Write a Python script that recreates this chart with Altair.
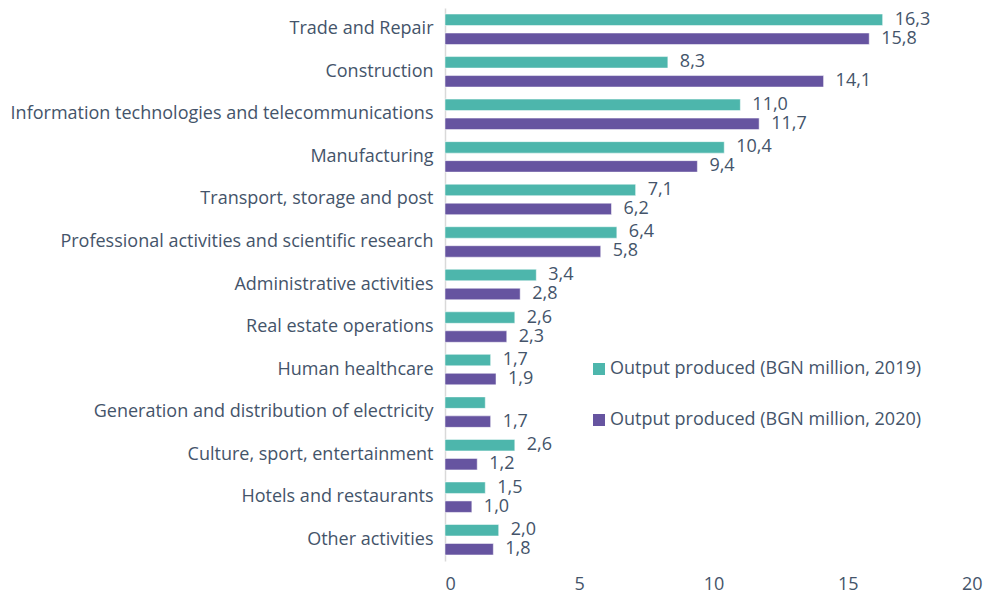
import altair as alt
import pandas as pd

categories = [
    "Trade and Repair",
    "Construction",
    "Information technologies and telecommunications",
    "Manufacturing",
    "Transport, storage and post",
    "Professional activities and scientific research",
    "Administrative activities",
    "Real estate operations",
    "Human healthcare\u00a0",
    "Generation and distribution of electricity",
    "Culture, sport, entertainment",
    "Hotels and restaurants",
    "Other activities",
]
values_2019 = [16.3, 8.3, 11.0, 10.4, 7.1, 6.4, 3.4, 2.6, 1.7, 1.5, 2.6, 1.5, 2.0]
values_2020 = [15.8, 14.1, 11.7, 9.4, 6.2, 5.8, 2.8, 2.3, 1.9, 1.7, 1.2, 1.0, 1.8]
series = ["Output produced (BGN million, 2019)", "Output produced (BGN million, 2020)"]
# the reference shows no label for the 2019 electricity bar
unlabelled = [("Generation and distribution of electricity", series[0])]

rows = []
for c, a, b in zip(categories, values_2019, values_2020):
    for s, v in zip(series, (a, b)):
        lab = "" if (c, s) in unlabelled else f"{v:.1f}".replace(".", ",")
        rows.append({"category": c, "series": s, "value": v, "label": lab})
df = pd.DataFrame(rows)

FONT = "Open Sans"
TXT = "#44546A"
FS = 18

y = alt.Y("category:N", sort=categories, title=None,
          scale=alt.Scale(paddingInner=0, paddingOuter=0),
          axis=alt.Axis(labelFontSize=FS, labelColor=TXT, labelFont=FONT,
                        labelLimit=500, labelPadding=12, ticks=False,
                        domainColor="#D9D9D9", domainWidth=1.5))
yoff = alt.YOffset("series:N", sort=series,
                   scale=alt.Scale(paddingInner=0.395, paddingOuter=0.318))
x = alt.X("value:Q", title=None,
          scale=alt.Scale(domain=[0, 20], nice=False),
          axis=alt.Axis(values=[0, 5, 10, 15, 20], grid=False, domain=False,
                        ticks=False, labelFontSize=FS, labelColor=TXT,
                        labelFont=FONT, labelPadding=14))

color = alt.Color("series:N", sort=series, title=None,
                  scale=alt.Scale(domain=series, range=["#4DB6AC", "#6654A0"]),
                  legend=alt.Legend(orient="none", legendX=145, legendY=352,
                                    symbolType="square", symbolSize=144,
                                    symbolStrokeWidth=0,
                                    labelFontSize=FS, labelColor=TXT,
                                    labelFont=FONT, labelLimit=500,
                                    rowPadding=33, labelOffset=2))

bars = alt.Chart(df).mark_bar(stroke="white", strokeWidth=0.5).encode(
    y=y, yOffset=yoff, x=x, color=color)

text = alt.Chart(df).mark_text(align="left", baseline="middle", dx=12,
                               fontSize=FS, font=FONT, color=TXT).encode(
    y=y, yOffset=yoff, x="value:Q", text="label:N")

chart = (bars + text).properties(
    width=537, height=553,
    autosize=alt.AutoSizeParams(type="none"),
    padding={"left": 437, "top": 0, "right": 6, "bottom": 34},
).configure(font=FONT).configure_view(stroke=None)

chart.save("out.html", embed_options={"renderer": "svg", "actions": False})
